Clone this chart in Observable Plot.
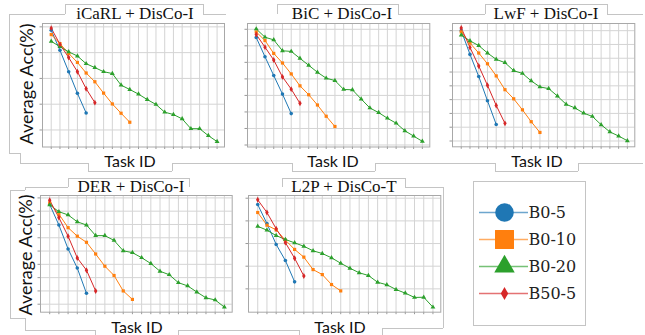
<!DOCTYPE html>
<html><head><meta charset="utf-8">
<script src="https://cdn.jsdelivr.net/npm/d3@7"></script>
<script src="https://cdn.jsdelivr.net/npm/@observablehq/plot@0.6"></script>
<style>
body{margin:0;background:#fff;}
#wrap{position:relative;width:645px;height:335px;overflow:hidden;background:#fff;}
.title{position:absolute;font-family:"Liberation Serif",serif;font-size:17px;color:#111;white-space:nowrap;transform:translate(-50%,0);line-height:1;}
.xlab{position:absolute;font-family:Lato,sans-serif;font-size:16px;color:#111;white-space:nowrap;transform:translate(-50%,0);line-height:1;}
.ylab{position:absolute;font-family:Lato,sans-serif;font-size:18px;color:#111;white-space:nowrap;transform:translate(-50%,-50%) rotate(-90deg);line-height:1;}
.deco{position:absolute;background:#c4c4c4;}
</style>
</head><body>
<div id="wrap"></div>
<script>
// ---- data ----
const seriesNames = ["B0-5", "B0-10", "B0-20", "B50-5"];
const seriesColors = ["#1f77b4", "#ff7f0e", "#2ca02c", "#d62728"];
const seriesSymbols = ["circle", "square", "triangle", "diamond"];
const panelTitles = ["iCaRL + DisCo-I", "BiC + DisCo-I", "LwF + DisCo-I", "DER + DisCo-I", "L2P + DisCo-T"];
const taskTicks = d3.range(1, 21);

const icarl_b05 = [78.7, 70.9, 62.6, 54.2, 46.6];
const icarl_b010 = [77.0, 73.5, 69.7, 66.2, 62.1, 58.7, 54.3, 50.1, 46.5, 43.0];
const icarl_b020 = [74.4, 72.3, 70.3, 68.7, 65.7, 64.2, 62.6, 61.9, 57.4, 55.7, 53.9, 51.8, 49.9, 46.9, 46.0, 44.3, 40.5, 40.5, 37.8, 35.5];
const icarl_b505 = [79.5, 73.2, 68.1, 62.6, 56.0, 50.6];

const bic_b05 = [77.5, 71.7, 66.0, 60.4, 54.5];
const bic_b010 = [79.2, 76.6, 72.7, 69.8, 66.5, 62.9, 60.2, 57.1, 53.7, 50.6];
const bic_b020 = [80.1, 77.6, 76.8, 73.5, 73.3, 71.2, 69.1, 67.0, 65.2, 64.5, 61.8, 61.7, 58.9, 56.2, 54.8, 53.1, 51.6, 49.3, 47.7, 46.1];
const bic_b505 = [78.4, 74.6, 70.7, 65.6, 61.9, 57.6];

const lwf_b05 = [80.0, 71.4, 63.4, 54.6, 46.0];
const lwf_b010 = [79.6, 75.5, 71.9, 68.0, 63.6, 58.6, 55.3, 51.3, 47.0, 43.1];
const lwf_b020 = [78.4, 76.3, 74.6, 71.9, 69.6, 68.4, 65.5, 64.5, 61.8, 59.6, 59.0, 56.3, 53.3, 52.0, 50.1, 48.9, 45.9, 43.3, 41.8, 40.1];
const lwf_b505 = [81.0, 73.9, 67.2, 60.2, 52.9, 46.4];

const der_b05 = [77.5, 69.8, 60.8, 53.6, 44.1];
const der_b010 = [78.1, 73.9, 68.8, 65.6, 63.3, 58.9, 54.3, 50.8, 45.0, 41.8];
const der_b020 = [77.4, 74.8, 73.6, 71.0, 69.8, 65.8, 65.8, 64.0, 60.1, 59.4, 57.5, 55.3, 52.4, 51.1, 48.1, 46.9, 44.6, 42.4, 41.6, 38.9];
const der_b505 = [79.1, 72.6, 65.6, 57.4, 52.8, 45.0];

const l2p_b05 = [77.2, 68.8, 59.6, 52.5, 43.1];
const l2p_b010 = [73.7, 68.1, 66.0, 61.5, 57.4, 54.0, 48.5, 46.3, 41.9, 39.1];
const l2p_b020 = [67.6, 65.9, 63.5, 61.8, 60.3, 58.8, 56.8, 55.6, 53.7, 51.3, 49.1, 47.1, 45.9, 42.9, 41.8, 39.7, 38.1, 36.2, 36.3, 31.9];
const l2p_b505 = [79.3, 73.7, 66.5, 60.4, 53.5, 45.7];

const panelSeries = [
  [icarl_b05, icarl_b010, icarl_b020, icarl_b505],
  [bic_b05, bic_b010, bic_b020, bic_b505],
  [lwf_b05, lwf_b010, lwf_b020, lwf_b505],
  [der_b05, der_b010, der_b020, der_b505],
  [l2p_b05, l2p_b010, l2p_b020, l2p_b505]
];
const panelYDomains = [[33.4, 81.3], [44.4, 81.75], [37.9, 82.6], [37.0, 80.9], [29.7, 81.2]];
const panelYTicks = [d3.range(40, 81, 10), d3.range(45, 81, 5), d3.range(40, 81, 5), d3.range(40, 81, 5), d3.range(40, 81, 10)];

// ---- layout (px) ----
const panelFrames = [[42, 22.5, 224, 146], [246.7, 22.5, 429, 146], [451.7, 22.7, 634, 146], [40, 195, 231.7, 311.7], [247.7, 195, 440, 311.7]];
const titlePos = [[135, 5], [342, 5], [546, 5], [131, 178], [344, 178]];
const xlabPos = [[130, 153], [333, 153], [537, 153], [137, 319], [340, 319]];
const ylabPos = [[26, 84], [25, 255]];

const wrap = document.getElementById("wrap");

function seg(x1, y1, x2, y2) {
  const d = document.createElement("div");
  d.className = "deco";
  d.style.left = Math.min(x1, x2) + "px";
  d.style.top = Math.min(y1, y2) + "px";
  d.style.width = Math.max(1, Math.abs(x2 - x1)) + "px";
  d.style.height = Math.max(1, Math.abs(y2 - y1)) + "px";
  wrap.appendChild(d);
}
// decorative box edges from the composed figure
[
  [65,4,203,4],[65,4,65,14],[9,14,65,14],[9,14,9,153],[9,153,20,153],[20,153,20,163],[20,163,88,163],
  [88,163,88,171],[88,171,172,171],[172,163,172,171],[172,163,292,163],[203,4,203,14],[203,14,226,14],
  [277,4,398,4],[277,4,277,14],[398,4,398,14],[398,14,485,14],[292,163,292,171],[292,171,375,171],[375,163,375,171],[375,163,495,163],
  [485,4,607,4],[485,4,485,14],[607,4,607,14],[607,14,643,14],[495,163,495,171],[495,171,578,171],[578,163,578,171],[578,163,643,163],
  [68,178,189,178],[68,178,68,187],[189,178,189,187],[25,187,68,187],[25,187,25,190],[10,190,25,190],[10,190,10,318],[10,318,25,318],[25,318,25,330],[25,330,95,330],[95,330,95,335],
  [178,330,299,330],[178,330,178,335],[299,330,299,335],
  [282,178,405,178],[282,178,282,187],[405,178,405,187],[405,187,443,187],[443,187,443,328],[382,328,443,328],[382,328,382,335],
  [473,181,585,181],[473,181,473,325],[585,181,585,325],[473,325,586,325]
].forEach(s => seg(...s));

panelTitles.forEach((t, i) => {
  const d = document.createElement("div");
  d.className = "title"; d.textContent = t;
  d.style.left = titlePos[i][0] + "px"; d.style.top = titlePos[i][1] + "px";
  wrap.appendChild(d);
  const x = document.createElement("div");
  x.className = "xlab"; x.textContent = "Task ID";
  x.style.left = xlabPos[i][0] + "px"; x.style.top = xlabPos[i][1] + "px";
  wrap.appendChild(x);
});
ylabPos.forEach(p => {
  const d = document.createElement("div");
  d.className = "ylab"; d.textContent = "Average Acc(%)";
  d.style.left = p[0] + "px"; d.style.top = p[1] + "px";
  wrap.appendChild(d);
});

const mL = 6, mR = 2, mT = 2, mB = 6;
panelSeries.forEach((ser, p) => {
  const data = [];
  ser.forEach((vals, s) => vals.forEach((v, i) => data.push({task: i + 1, acc: v, series: seriesNames[s]})));
  const [L, T, R, B] = panelFrames[p];
  const svg = Plot.plot({
    width: (R - L) + mL + mR, height: (B - T) + mT + mB,
    marginLeft: mL, marginRight: mR, marginTop: mT, marginBottom: mB,
    x: {domain: [0, 20.85]},
    y: {domain: panelYDomains[p]},
    color: {domain: seriesNames, range: seriesColors},
    symbol: {domain: seriesNames, range: seriesSymbols},
    style: {background: "transparent", overflow: "visible"},
    marks: [
      Plot.gridX(taskTicks, {stroke: "#d4d4d4", strokeOpacity: 1}),
      Plot.gridY(panelYTicks[p], {stroke: "#d4d4d4", strokeOpacity: 1}),
      Plot.axisX(taskTicks, {tickFormat: () => "", tickSize: 2.5, stroke: "#999", label: null}),
      Plot.axisY(panelYTicks[p], {tickFormat: () => "", tickSize: 2.5, stroke: "#999", label: null}),
      Plot.frame({stroke: "#a8a8a8"}),
      Plot.line(data, {x: "task", y: "acc", z: "series", stroke: "series", strokeWidth: 1}),
      Plot.dot(data, {x: "task", y: "acc", fill: "series", symbol: "series", r: 1.8})
    ]
  });
  svg.style.position = "absolute";
  svg.style.left = (L - mL) + "px";
  svg.style.top = (T - mT) + "px";
  wrap.appendChild(svg);
});

// legend
const legendR = [9.3, 10.7, 7.6, 3.9];
const legendData = seriesNames.map((n, i) => ({series: n, r: legendR[i]}));
const leg = Plot.plot({
  width: 112, height: 144, margin: 0,
  x: {domain: [0, 112], range: [0, 112], axis: null},
  y: {type: "point", domain: seriesNames, range: [16, 127], axis: null},
  color: {domain: seriesNames, range: seriesColors},
  symbol: {domain: seriesNames, range: seriesSymbols},
  r: {type: "identity"},
  style: {background: "transparent", overflow: "visible"},
  marks: [
    Plot.ruleY(legendData, {y: "series", x1: 6, x2: 55, stroke: "series", strokeWidth: 1.5, strokeOpacity: 0.65}),
    Plot.dot(legendData, {y: "series", x: 31, fill: "series", symbol: "series", r: "r"}),
    Plot.text(legendData, {y: "series", x: 55, text: "series", textAnchor: "start", fontFamily: "DejaVu Serif", fontSize: 16, fill: "#222"})
  ]
});
leg.style.position = "absolute";
leg.style.left = "473px";
leg.style.top = "181px";
wrap.appendChild(leg);
</script>
</body></html>
